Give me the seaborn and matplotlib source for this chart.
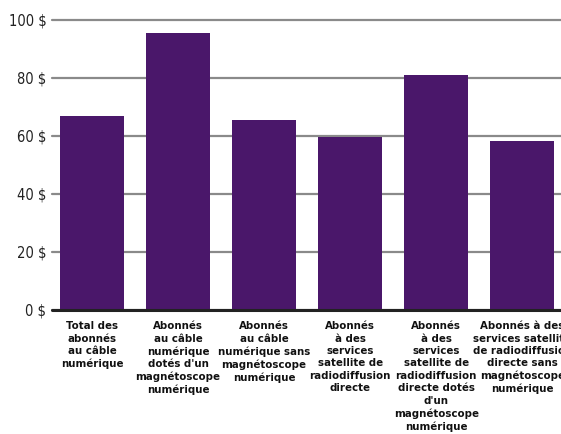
import matplotlib
matplotlib.use("Agg")
import matplotlib.pyplot as plt
import seaborn as sns
import pandas as pd

categories = [
    "Total des\nabonnés\nau câble\nnumérique",
    "Abonnés\nau câble\nnumérique\ndotés d'un\nmagnétoscope\nnumérique",
    "Abonnés\nau câble\nnumérique sans\nmagnétoscope\nnumérique",
    "Abonnés\nà des\nservices\nsatellite de\nradiodiffusion\ndirecte",
    "Abonnés\nà des\nservices\nsatellite de\nradiodiffusion\ndirecte dotés\nd'un\nmagnétoscope\nnumérique",
    "Abonnés à des\nservices satellite\nde radiodiffusion\ndirecte sans\nmagnétoscope\nnumérique",
]
values = [66.8, 95.4, 65.4, 59.6, 80.9, 58.2]
yticks = [0, 20, 40, 60, 80, 100]
ytick_labels = ["0 $", "20 $", "40 $", "60 $", "80 $", "100 $"]

df = pd.DataFrame({"cat": categories, "val": values})

sns.set_theme(style="white")
plt.rcParams["font.family"] = ["DejaVu Sans"]
plt.rcParams["font.stretch"] = "condensed"

fig = plt.figure(figsize=(5.61, 4.34), dpi=100)
ax = fig.add_axes([52 / 561, (434 - 310) / 434, 1 - 52 / 561, (310 - 19.7) / 434])

ax.set_axisbelow(True)
sns.barplot(data=df, x="cat", y="val", color="#4a176a", saturation=1, width=0.744, ax=ax, zorder=2)
for p in ax.patches:
    p.set_edgecolor("none")

ax.set_ylim(0, 100)
ax.set_xlim(-0.465, 5.45)
ax.set_yticks(yticks)
ax.set_yticklabels(ytick_labels, fontsize=10.5, color="#222222", fontstretch="condensed")
ax.yaxis.grid(True, color="#8a8a8a", linewidth=1.6)
for gl in ax.get_ygridlines():
    gl.set_clip_on(False)
ax.xaxis.grid(False)
ax.axhline(0, color="#222222", linewidth=2.2, zorder=3, clip_on=False)
for s in ax.spines.values():
    s.set_visible(False)
ax.tick_params(axis="y", length=0, pad=4)
ax.tick_params(axis="x", length=0, pad=8)
ax.set_xlabel("")
ax.set_ylabel("")
for lbl in ax.get_xticklabels():
    lbl.set_fontweight("bold")
    lbl.set_fontstretch("condensed")
    lbl.set_fontsize(8.2)
    lbl.set_linespacing(1.3)
    lbl.set_color("#111111")
    lbl.set_verticalalignment("top")

fig.savefig("out.png", dpi=100)
